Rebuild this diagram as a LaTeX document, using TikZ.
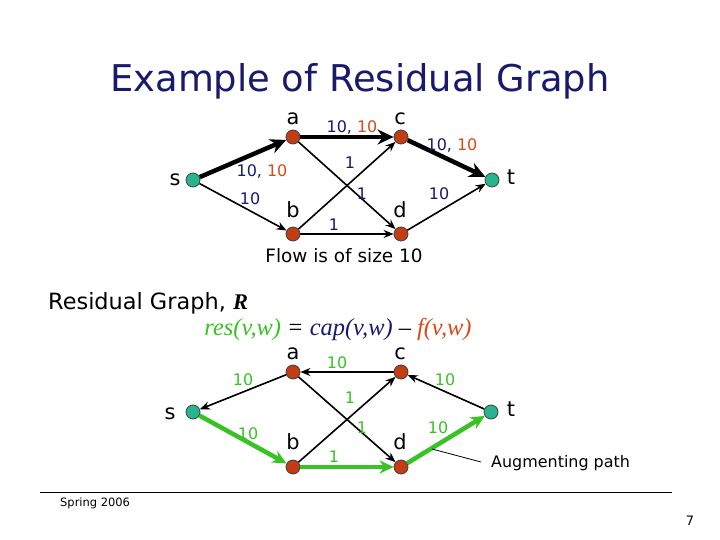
\documentclass[tikz,border=0pt]{standalone}
\usepackage{fontspec}
\setmainfont{DejaVu Sans}
\newfontfamily\seriffont{Liberation Serif}
\usetikzlibrary{arrows.meta}
\definecolor{navy}{RGB}{25,25,110}
\definecolor{flowred}{RGB}{215,75,25}
\definecolor{resgreen}{RGB}{55,195,35}
\definecolor{nodered}{RGB}{195,60,20}
\definecolor{nodeteal}{RGB}{40,180,140}
\begin{document}
\begin{tikzpicture}[x=1bp,y=-1bp,
  vtx/.style={circle,draw=black!75,line width=0.8bp,fill=nodered,inner sep=0pt,minimum size=14bp},
  term/.style={vtx,fill=nodeteal},
  nlab/.style={font=\fontsize{21}{21}\selectfont,inner sep=0pt},
  elab/.style={font=\fontsize{16}{16}\selectfont,text=navy,inner sep=0pt},
  glab/.style={font=\fontsize{16}{16}\selectfont,text=resgreen,inner sep=0pt},
  thinarc/.style={draw=black,line width=1.6bp,-{Stealth[length=10bp,width=8bp]}},
  heavyarc/.style={draw=black,line width=4.5bp,-{Stealth[length=16bp,width=15bp]}},
  greenarc/.style={draw=resgreen,line width=4.5bp,-{Stealth[length=14bp,width=13bp]}}]
\useasboundingbox[fill=white] (0,0) rectangle (720,540);

% title
\node[font=\fontsize{37}{37}\selectfont,text=navy] (title) at (360,81) {Example of Residual Graph};

% ---------- top graph ----------
\node[term] (s1) at (193,180) {};
\node[vtx] (a1) at (293,137) {};
\node[vtx] (c1) at (401,137) {};
\node[vtx] (b1) at (293,234) {};
\node[vtx] (d1) at (401,234) {};
\node[term] (t1) at (492,180) {};
\node[nlab] (ls1) at (175,180) {s};
\node[nlab] (la1) at (293,119) {a};
\node[nlab] (lc1) at (400,119) {c};
\node[nlab] (lb1) at (293,210) {b};
\node[nlab] (ld1) at (400,210) {d};
\node[nlab] (lt1) at (511,177) {t};

\path[heavyarc] (s1) -- (a1);
\path[heavyarc] (a1) -- (c1);
\path[heavyarc] (c1) -- (t1);
\path[thinarc] (s1) -- (b1);
\path[thinarc] (a1) -- (d1);
\path[thinarc] (b1) -- (c1);
\path[thinarc] (b1) -- (d1);
\path[thinarc] (d1) -- (t1);

\node[elab] (e1) at (262,172) {10, {\color{flowred}10}};
\node[elab] (e2) at (250,199) {10};
\node[elab] (e3) at (352,128) {10, {\color{flowred}10}};
\node[elab] (e4) at (452,146) {10, {\color{flowred}10}};
\node[elab] (e5) at (350,163) {1};
\node[elab] (e6) at (362,194) {1};
\node[elab] (e7) at (334,225) {1};
\node[elab] (e8) at (439,194) {10};

\node[font=\fontsize{18.5}{18.5}\selectfont] (flow) at (344,256) {Flow is of size 10};

% ---------- residual heading ----------
\node[font=\fontsize{22.5}{22.5}\selectfont,anchor=west,inner sep=0pt] (rg) at (48,303) {Residual Graph, {\seriffont\bfseries\itshape R}};
\node[font=\fontsize{24.5}{24.5}\selectfont\seriffont\itshape,inner sep=0pt] (formula) at (338,330)
  {{\color{resgreen}res(v,w)} = {\color{navy}cap(v,w)} {\upshape –} {\color{flowred}f(v,w)}};

% ---------- bottom graph ----------
\node[term] (s2) at (193,412) {};
\node[vtx] (a2) at (293,372) {};
\node[vtx] (c2) at (401,372) {};
\node[vtx] (b2) at (293,467) {};
\node[vtx] (d2) at (401,467) {};
\node[term] (t2) at (491,412) {};
\node[nlab] (ls2) at (170,414) {s};
\node[nlab] (la2) at (293,354) {a};
\node[nlab] (lc2) at (400,354) {c};
\node[nlab] (lb2) at (293,442) {b};
\node[nlab] (ld2) at (400,442) {d};
\node[nlab] (lt2) at (511,409) {t};

\path[thinarc] (a2) -- (s2);
\path[thinarc] (c2) -- (a2);
\path[thinarc] (t2) -- (c2);
\path[thinarc] (b2) -- (c2);
\path[thinarc] (a2) -- (d2);
\path[greenarc] (s2) -- (b2);
\path[greenarc] (b2) -- (d2);
\path[greenarc] (d2) -- (t2);

\node[glab] (g1) at (243,380) {10};
\node[glab] (g2) at (337,363) {10};
\node[glab] (g3) at (445,380) {10};
\node[glab] (g4) at (350,398) {1};
\node[glab] (g5) at (362,428) {1};
\node[glab] (g6) at (248,434) {10};
\node[glab] (g7) at (334,457) {1};
\node[glab] (g8) at (438,428) {10};

\node[font=\fontsize{16}{16}\selectfont,anchor=west,inner sep=0pt] (aug) at (491,463) {Augmenting path};
\coordinate (ap1) at (432,449);
\coordinate (ap2) at (481,462);
\draw[line width=0.8bp] (ap1) -- (ap2);

% ---------- footer ----------
\coordinate (f1) at (40,492);
\coordinate (f2) at (672,492);
\draw[line width=0.8bp] (f1) -- (f2);
\node[font=\fontsize{11.5}{11.5}\selectfont,anchor=west,inner sep=0pt] (spring) at (60,503) {Spring 2006};
\node[font=\fontsize{13}{13}\selectfont,inner sep=0pt] (pg) at (690,521) {7};
\end{tikzpicture}
\end{document}
